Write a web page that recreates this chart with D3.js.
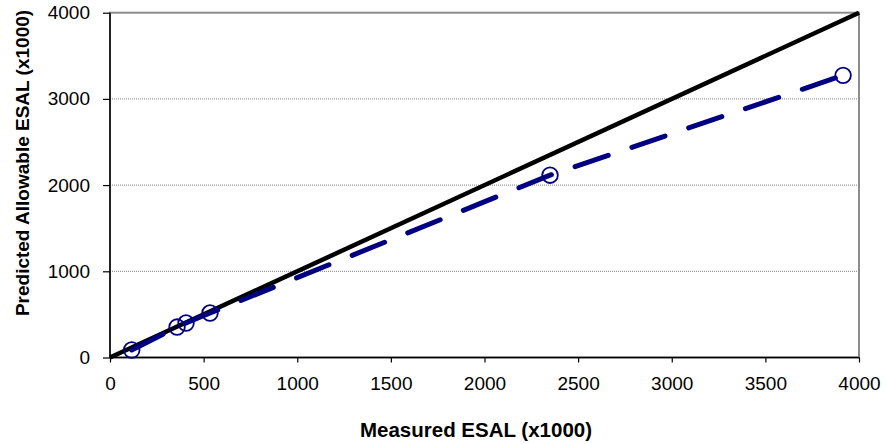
<!DOCTYPE html>
<html>
<head>
<meta charset="utf-8">
<script src="https://cdn.jsdelivr.net/npm/d3@7"></script>
<style>
  html, body { margin: 0; padding: 0; background: #fff; }
  svg { display: block; font-family: "Liberation Sans", Arial, sans-serif; }
</style>
</head>
<body>
<svg id="chart" width="887" height="444"></svg>
<script>
// Measured vs predicted allowable ESAL (thousands)
const measured  = [116, 358, 406, 534, 2350, 3915];
const predicted = [87, 353, 400, 516, 2115, 3273];
const equality  = [0, 4000];
const xTicks = [0, 500, 1000, 1500, 2000, 2500, 3000, 3500, 4000];
const yTicks = [0, 1000, 2000, 3000, 4000];
const xTitle = "Measured ESAL (x1000)";
const yTitle = "Predicted Allowable ESAL (x1000)";

const svg = d3.select("#chart");
const plot = { left: 110, right: 859, top: 12.7, bottom: 357.5 };

const x = d3.scaleLinear().domain([0, 4000]).range([plot.left, plot.right]);
const y = d3.scaleLinear().domain([0, 4000]).range([plot.bottom, plot.top]);

// dotted gridlines
svg.append("g")
  .selectAll("line")
  .data(yTicks.filter(d => d > 0 && d < 4000))
  .join("line")
  .attr("x1", plot.left).attr("x2", plot.right)
  .attr("y1", d => y(d)).attr("y2", d => y(d))
  .attr("stroke", "#808080").attr("stroke-width", 1)
  .attr("stroke-dasharray", "1,1");

// plot area frame
svg.append("rect")
  .attr("x", plot.left).attr("y", plot.top)
  .attr("width", plot.right - plot.left).attr("height", plot.bottom - plot.top)
  .attr("fill", "none").attr("stroke", "#8c8c8c").attr("stroke-width", 2);

// axes
const xAxis = d3.axisBottom(x).tickValues(xTicks).tickSize(5).tickPadding(14).tickFormat(d3.format("d"));
const yAxis = d3.axisLeft(y).tickValues(yTicks).tickSize(7).tickPadding(13).tickFormat(d3.format("d"));

const gx = svg.append("g").attr("transform", `translate(0,${plot.bottom})`).call(xAxis);
const gy = svg.append("g").attr("transform", `translate(${plot.left},0)`).call(yAxis);
[gx, gy].forEach(g => {
  g.select(".domain").attr("stroke", "#000").attr("stroke-width", 1.5);
  g.selectAll(".tick line").attr("stroke", "#000").attr("stroke-width", 1.2);
  g.selectAll(".tick text")
    .attr("fill", "#000")
    .style("font-family", "'Liberation Sans', Arial, sans-serif")
    .style("font-size", "19px");
});
gx.select(".domain").attr("d", `M${plot.left},0H${plot.right}`);
gy.select(".domain").attr("d", `M0,${plot.bottom}V${plot.top}`);

// line of equality
svg.append("path")
  .datum(equality)
  .attr("d", d3.line().x(d => x(d)).y(d => y(d)))
  .attr("stroke", "#000").attr("stroke-width", 4.5)
  .attr("fill", "none");

// measured vs predicted series
const pts = measured.map((m, i) => [m, predicted[i]]);
svg.append("path")
  .datum(pts)
  .attr("d", d3.line().x(d => x(d[0])).y(d => y(d[1])))
  .attr("stroke", "#000080").attr("stroke-width", 5)
  .attr("stroke-linecap", "round")
  .attr("stroke-dasharray", "35,25")
  .attr("fill", "none");

svg.append("g")
  .selectAll("circle")
  .data(pts)
  .join("circle")
  .attr("cx", d => x(d[0])).attr("cy", d => y(d[1]))
  .attr("r", 7.8)
  .attr("fill", "none").attr("stroke", "#000080").attr("stroke-width", 1.8);

// axis titles
svg.append("text")
  .attr("x", 476).attr("y", 437)
  .attr("text-anchor", "middle")
  .style("font-weight", "bold").style("font-size", "20.5px")
  .text(xTitle);

svg.append("text")
  .attr("transform", "translate(29,163) rotate(-90)")
  .attr("text-anchor", "middle")
  .style("font-weight", "bold").style("font-size", "19px")
  .text(yTitle);
</script>
</body>
</html>
